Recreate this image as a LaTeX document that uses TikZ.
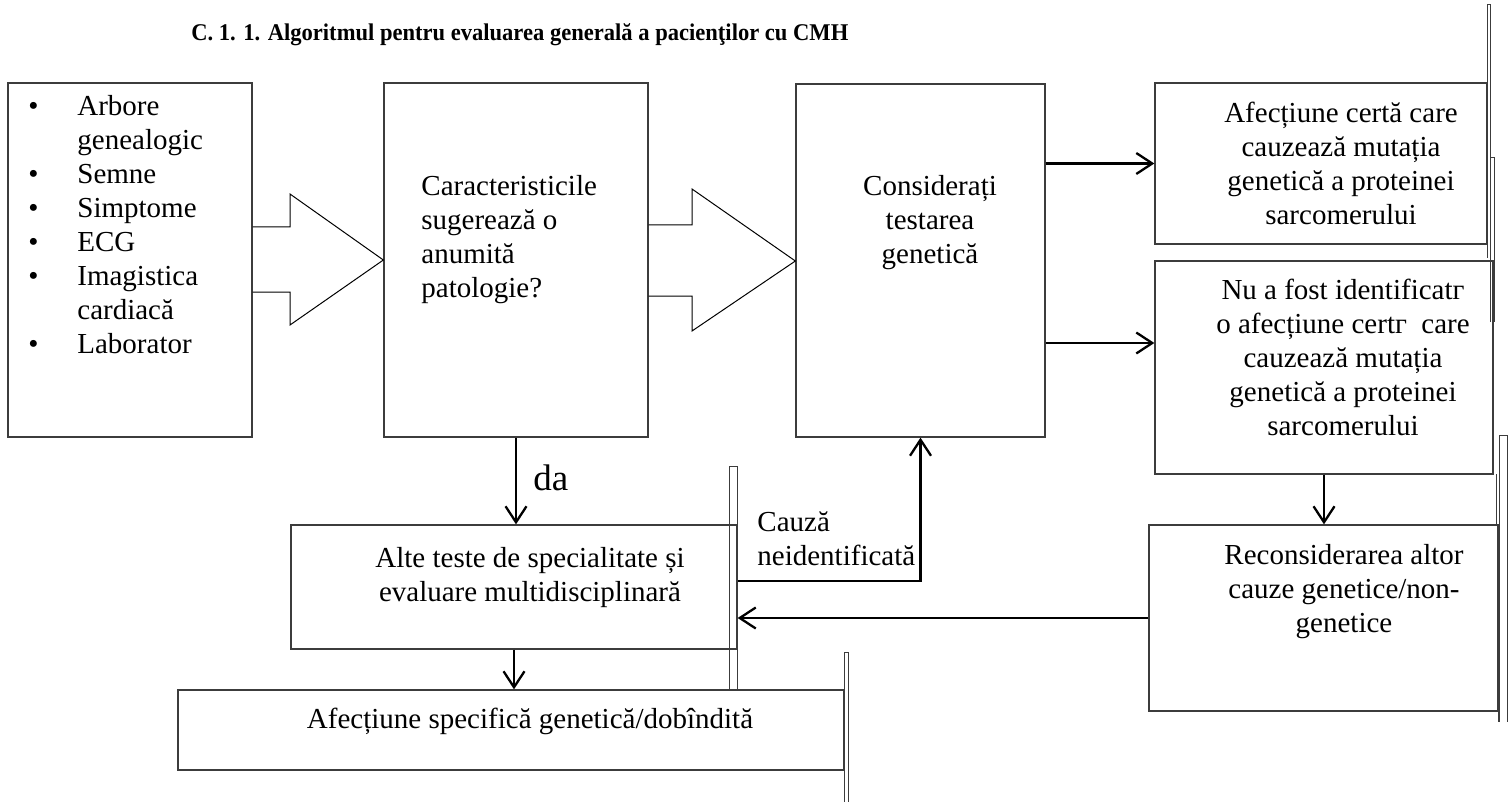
\documentclass[tikz,border=0pt]{standalone}
\usepackage{fontspec}
\setmainfont{Liberation Serif}
\newfontfamily\headfont[FakeStretch=0.94]{Liberation Serif}
\usetikzlibrary{arrows.meta,fit}
\definecolor{edge}{HTML}{3C3C3C}
\definecolor{ink}{HTML}{000000}

\begin{document}
\begin{tikzpicture}[x=0.5pt,y=-0.5pt,
  frame/.style={draw=edge,line width=0.65pt,inner sep=0pt},
  txt/.style={font=\fontsize{14.5}{17}\selectfont,align=center,inner sep=0pt},
  link/.style={draw=ink,line width=1.15pt,-{Straight Barb[length=8pt,width=10.5pt]}},
  blockarrow/.style={draw=ink,line width=0.5pt,line join=miter},
  ghost/.style={draw=edge,line width=0.5pt}]
\useasboundingbox (0,0) rectangle (1508,802);

% title
\node[anchor=base west,inner sep=0pt,font=\headfont\fontsize{12}{14}\selectfont\bfseries] (title) at (191,41)
  {C. 1. 1. Algoritmul pentru evaluarea generală a pacienţilor cu CMH};

% boxes
\node[frame,fit={(8,83) (252,437)}] (hist) {};
\node[frame,fit={(384,83) (648,437)}] (feat) {};
\node[frame,fit={(796,84) (1045,437)}] (gtest) {};
\node[frame,fit={(1155,83) (1487,244)}] (cert) {};
\node[frame,fit={(1155,261) (1493,474)}] (nofind) {};
\node[frame,fit={(1149,525) (1498,711)}] (recons) {};
\node[frame,fit={(291,525) (737,649)}] (other) {};
\node[frame,fit={(178,690) (844,770)}] (spec) {};

% stray frame edges
\foreach \xa/\xb/\ya/\yb in {1487/1490/5/158, 1490/1494/158/322, 729/737/466/690,
  844/848/652/802, 1499/1507/435/722}
  \draw[ghost] (\xa,\yb) -- (\xa,\ya) -- (\xb,\ya) -- (\xb,\yb);
\draw[ghost] (1487,244) -- (1487,258);
\draw[ghost] (1496,474) -- (1496,525);
\draw[ghost] (1498,711) -- (1498,722);
\draw[ghost] (729,649) -- (729,690);

% texts
\node[txt,anchor=north west,align=left] (facts) at (28,95)
  {\makebox[24.5pt][l]{\textbullet}Arbore\\
   \hspace*{24.5pt}genealogic\\
   \makebox[24.5pt][l]{\textbullet}Semne\\
   \makebox[24.5pt][l]{\textbullet}Simptome\\
   \makebox[24.5pt][l]{\textbullet}ECG\\
   \makebox[24.5pt][l]{\textbullet}Imagistica\\
   \hspace*{24.5pt}cardiacă\\
   \makebox[24.5pt][l]{\textbullet}Laborator};
\node[txt,anchor=north west,align=left] (featq) at (421,175)
  {Caracteristicile\\sugerează o\\anumită\\patologie?};
\node[txt,anchor=north] (gtestq) at (930,175) {Considerați\\testarea\\genetică};
\node[txt,anchor=north] (certq) at (1341,102)
  {Afecțiune certă care\\cauzează mutația\\genetică a proteinei\\sarcomerului};
\node[txt,anchor=north] (nofindq) at (1343,279)
  {Nu a fost identificatг\\o afecțiune certг\ \ care\\cauzează mutația\\genetică a proteinei\\sarcomerului};
\node[txt,anchor=north] (reconsq) at (1344,544)
  {Reconsiderarea altor\\cauze genetice/non-\\genetice};
\node[txt,anchor=north] (otherq) at (530,547)
  {Alte teste de specialitate și\\evaluare multidisciplinară};
\node[txt,anchor=north] (specq) at (530,708) {Afecțiune specifică genetică/dobîndită};

% block arrows
\draw[blockarrow] (hist.east |- 0,227) -- (290,227) -- (290,194) -- (feat.west |- 0,260)
  -- (290,325) -- (290,292) -- (hist.east |- 0,292);
\draw[blockarrow] (feat.east |- 0,225) -- (692,225) -- (692,189) -- (gtest.west |- 0,261)
  -- (692,331) -- (692,296) -- (feat.east |- 0,296);

% connectors
\draw[link] (gtest.east |- cert.west) -- (cert.west);
\draw[link] (gtest.east |- 0,343) -- (nofind.west |- 0,343);
\draw[link] (nofind.south) -- (nofind.south |- recons.north);
\draw[link] (recons.west |- 0,618) -- (other.east |- 0,618);
\draw[link] (feat.south) -- (feat.south |- other.north);
\draw[link] (other.south) -- (other.south |- spec.north);
\draw[link] (other.east |- 0,581) -| (gtest.south);
\node[anchor=base west,inner sep=0pt,font=\fontsize{18.5}{20}\selectfont] (yes) at (533,490) {da};
\node[txt,anchor=north west,align=left] (unk) at (757,511) {Cauză\\neidentificată};
\end{tikzpicture}
\end{document}
